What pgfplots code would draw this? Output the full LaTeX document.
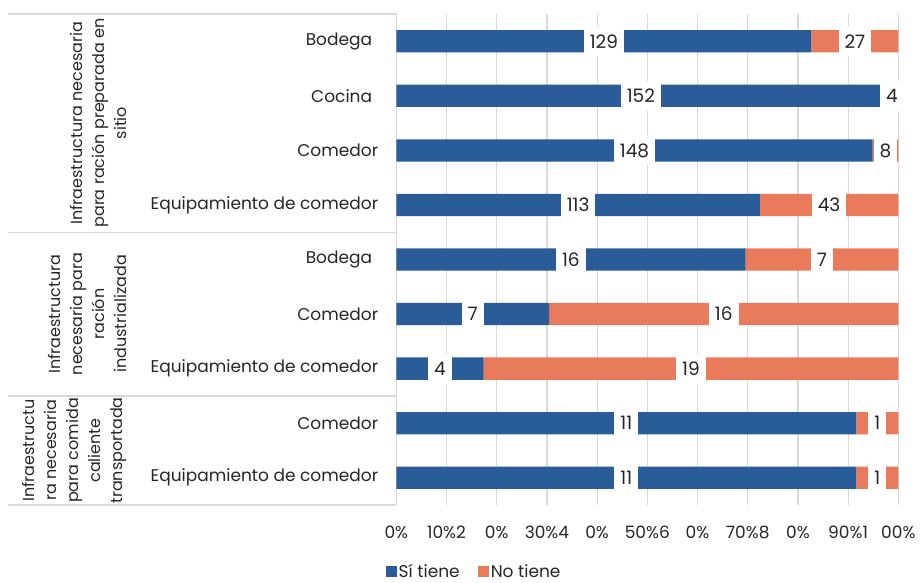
\documentclass[border=0pt]{standalone}
\usepackage{fontspec}
\setmainfont{Poppins}
\usepackage{pgfplots}
\usepackage{pgfplotstable}
\pgfplotsset{compat=1.18}

\definecolor{siblue}{RGB}{43,92,154}
\definecolor{noorange}{RGB}{233,122,91}
\definecolor{gridgray}{RGB}{217,217,217}
\definecolor{txt}{RGB}{38,38,38}

\newcommand\lbl{\fontsize{17pt}{21pt}\selectfont}
\newcommand\num{\fontsize{18.5pt}{22pt}\selectfont}
\newcommand\grp{\fontsize{16pt}{22pt}\selectfont}

% counts, share of each row (in %), and middle of each segment for the labels
\pgfplotstableread{
y si no sipct nopct simid nomid
0 129 27 82.69 17.31 41.35 91.35
1 152 4 97.44 2.56 48.72 98.72
2 148 8 94.87 5.13 47.44 97.44
3 113 43 72.44 27.56 36.22 86.22
4 16 7 69.57 30.43 34.78 84.78
5 7 16 30.43 69.57 15.22 65.22
6 4 19 17.39 82.61 8.70 58.70
7 11 1 91.67 8.33 45.83 95.83
8 11 1 91.67 8.33 45.83 95.83
}\datatable

\begin{document}
\begin{tikzpicture}
\path[use as bounding box] (0,0) rectangle (922pt,-583pt);

% group cells on the left
\draw[gridgray, line width=1.2pt] (8pt,-14pt) -- (396.3pt,-14pt) -- (396.3pt,-505pt);
\draw[gridgray, line width=1.2pt] (8pt,-232.2pt) -- (396.3pt,-232.2pt);
\draw[gridgray, line width=1.2pt] (8pt,-395.9pt) -- (396.3pt,-395.9pt);
\draw[gridgray, line width=1.2pt] (8pt,-505pt) -- (396.3pt,-505pt);

\node[rotate=90, anchor=south, align=center, inner sep=0pt, font=\grp, text=txt]
  at (127pt,-123.1pt) {Infraestructura necesaria\\para ración preparada en\\sitio};
\node[rotate=90, anchor=south, align=center, inner sep=0pt, font=\grp, text=txt]
  at (127pt,-314pt) {Infraestructura\\necesaria para\\ración\\industrializada};
\node[rotate=90, anchor=south, align=center, inner sep=0pt, font=\grp, text=txt]
  at (127pt,-450.5pt) {Infraestructu\\ra necesaria\\para comida\\caliente\\transportada};

\begin{axis}[
  at={(396.3pt,-505pt)}, anchor=south west,
  scale only axis, width=502pt, height=491pt,
  xbar stacked, bar width=22.3pt,
  xmin=0, xmax=100, ymin=-0.5, ymax=8.5, y dir=reverse,
  axis line style={draw=none},
  major tick length=0pt,
  xtick={0,10,...,100},
  xticklabels={0\%,10\%2,0\%,30\%4,0\%,50\%6,0\%,70\%8,0\%,90\%1,00\%},
  xmajorgrids, grid style={gridgray, line width=1.2pt},
  ytick={0,...,8},
  yticklabels={Bodega\kern6pt,Cocina\kern6pt,Comedor,Equipamiento de comedor,Bodega\kern6pt,Comedor,Equipamiento de comedor,Comedor,Equipamiento de comedor},
  yticklabel style={font=\lbl, text=txt, inner sep=0pt, xshift=-18pt},
  xticklabel style={font=\lbl, text=txt, inner sep=0pt, yshift=-21pt},
  legend style={at={(0.155,-0.136)}, anchor=center, draw=none, fill=none,
    font=\lbl, text=txt, legend columns=2, inner sep=0pt,
    /tikz/every even column/.append style={column sep=16pt}},
  legend image code/.code={\fill[#1] (0pt,-5.5pt) rectangle (11pt,5.5pt);},
]
\addplot[fill=siblue, draw=none] table[x=sipct, y=y]{\datatable};
\addplot[fill=noorange, draw=none] table[x=nopct, y=y]{\datatable};
\legend{Sí tiene, No tiene}
\end{axis}

% value labels on white boxes, centred on each segment
\begin{axis}[
  at={(396.3pt,-505pt)}, anchor=south west,
  scale only axis, width=502pt, height=491pt,
  xmin=0, xmax=100, ymin=-0.5, ymax=8.5, y dir=reverse,
  hide axis, clip=false,
  every node near coord/.append style={fill=white, text=txt, font=\num,
    inner sep=0pt, inner xsep=6pt, minimum height=30pt},
]
\addplot[draw=none, mark=none, nodes near coords, point meta=explicit symbolic,
  nodes near coords align={anchor=center}]
  table[x=simid, y=y, meta=si]{\datatable};
\addplot[draw=none, mark=none, nodes near coords, point meta=explicit symbolic,
  nodes near coords align={anchor=center}]
  table[x=nomid, y=y, meta=no]{\datatable};
\end{axis}
\end{tikzpicture}
\end{document}
